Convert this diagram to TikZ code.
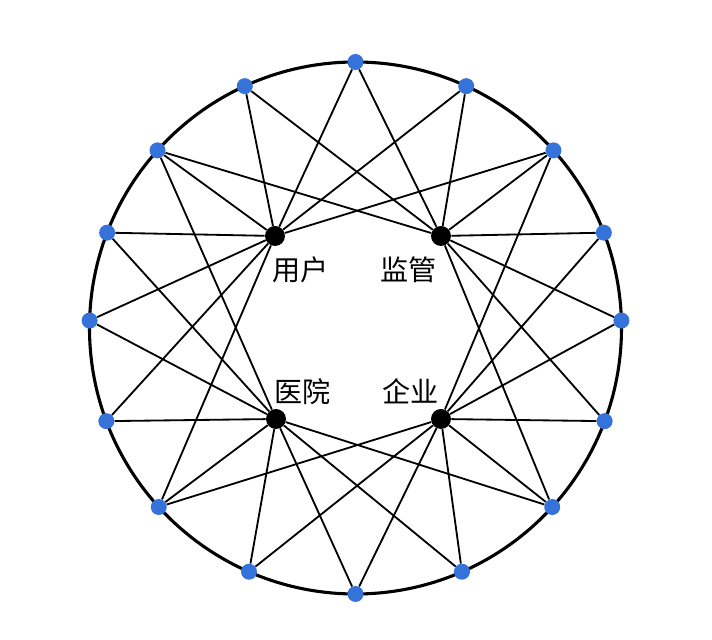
\documentclass[tikz,border=0pt]{standalone}
\usepackage{fontspec}
\newfontfamily\cjk{Noto Sans CJK SC}
\usetikzlibrary{calc}
\usetikzlibrary{positioning}
\definecolor{dotblue}{RGB}{53,115,219}

\begin{document}
\begin{tikzpicture}[
  pt/.style={circle,fill=dotblue,inner sep=0pt,minimum size=0.4cm},
  hub/.style={circle,fill=black,inner sep=0pt,minimum size=0.5cm},
  lab/.style={font=\cjk\fontsize{20}{20}\selectfont},
  link/.style={line width=1.3pt}]
\useasboundingbox (-8.8875,-7.8) rectangle (8.9125,8.2);
\draw[line width=2.2pt] (0,0) circle (6.65);

\node[pt] (p1) at (90:6.65) {};
\node[pt] (p2) at (65.4:6.65) {};
\node[pt] (p3) at (41.9:6.65) {};
\node[pt] (p4) at (21.0:6.65) {};
\node[pt] (p5) at (1.6:6.65) {};
\node[pt] (p6) at (-20.5:6.65) {};
\node[pt] (p7) at (-42.3:6.65) {};
\node[pt] (p8) at (-66.4:6.65) {};
\node[pt] (p9) at (-90:6.65) {};
\node[pt] (p10) at (246.4:6.65) {};
\node[pt] (p11) at (222.3:6.65) {};
\node[pt] (p12) at (200.5:6.65) {};
\node[pt] (p13) at (178.4:6.65) {};
\node[pt] (p14) at (159.0:6.65) {};
\node[pt] (p15) at (138.1:6.65) {};
\node[pt] (p16) at (114.6:6.65) {};

\node[hub] (user) at (-2.0125,2.3) {};
\node[hub] (watch) at (2.1375,2.3) {};
\node[hub] (clinic) at (-1.9875,-2.275) {};
\node[hub] (firm) at (2.1375,-2.275) {};

\node[lab] (userlab) at (-1.375,1.45) {用户};
\node[lab] (watchlab) at (1.325,1.45) {监管};
\node[lab] (cliniclab) at (-1.325,-1.59) {医院};
\node[lab] (firmlab) at (1.375,-1.575) {企业};

\foreach \i in {11,12,13,14,15,16,1,2,3} \draw[link] (user) -- (p\i);
\foreach \i in {15,16,1,2,3,4,5,6,7} \draw[link] (watch) -- (p\i);
\foreach \i in {7,8,9,10,11,12,13,14,15} \draw[link] (clinic) -- (p\i);
\foreach \i in {3,4,5,6,7,8,9,10,11} \draw[link] (firm) -- (p\i);

\end{tikzpicture}
\end{document}
